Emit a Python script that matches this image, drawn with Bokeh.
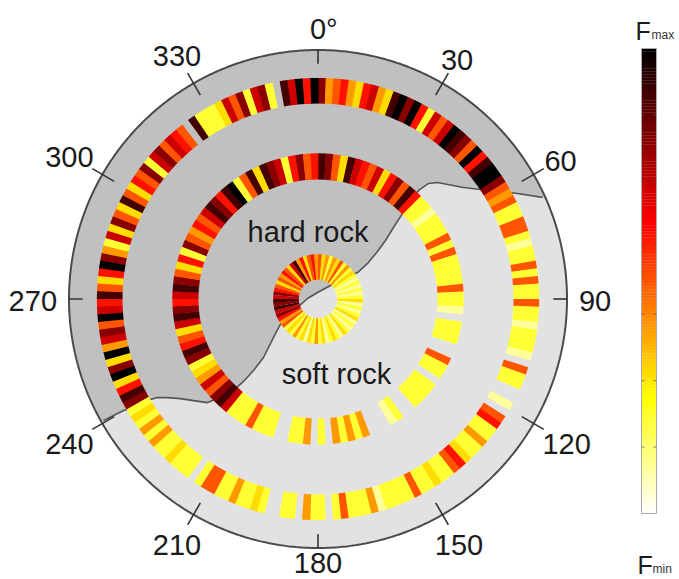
import math
import numpy as np
from bokeh.plotting import figure
from bokeh.models import Range1d, ColumnDataSource
from bokeh.core.properties import value
from bokeh.embed import file_html
from bokeh.resources import INLINE

# ---------------- data (force level 0 = Fmin ... 10 = Fmax, None = no sample) -------------
# outer ring: 2 degree bins starting at 0 deg (north), clockwise
outer_force = [
    8, 4, 5, 6, 4, 3, 6, 7, 4, 3,
    9, 10, 8, 10, 6, 2, 7, 5, 7, 10,
    9, 8, 5, 10, 6, 9, 10, 10, 8, 5,
    4, 5, 2, 2, 5, 5, 2, 1, 2, 2,
    5, 2, 5, 2, 2, 5, 2, 2, 1, 2,
    2, 2, 1, None, 5, 2, 2, None, None, 1,
    None, 5, 6, 2, 2, 4, 2, 2, 3, 6,
    5, 2, 2, 3, 2, 2, 5, 2, 2, 2,
    2, 1, 4, 2, 2, 2, 5, 2, None, 2,
    2, 4, None, 2, 2, None, None, 2, 3, 2,
    2, 4, 2, 2, 5, 5, 2, None, 2, 2,
    2, 3, 2, 2, 4, 2, 4, 2, 3, 2,
    8, 9, 6, 3, 10, 8, 3, 10, 4, 7,
    8, 5, 10, 7, 6, 9, 5, 3, 6, 10,
    8, 4, 2, 7, 3, 8, 5, 3, 9, 5,
    3, 6, 5, 8, 2, 7, 8, 5, 7, 6,
    5, None, 9, 2, 2, 2, 3, 7, 5, 8,
    2, 7, 8, 2, None, 9, 7, 10, 6, 10,
]
# middle ring: 3 degree bins
middle_force = [
    9, 8, 5, 3, 9, 7, 6, 5, 7, 3,
    6, 8, 5, 9, 6, 2, 2, 1, 2, 2,
    2, 5, 2, 5, 2, 2, 2, 2, 5, 2,
    2, 1, None, 2, 2, 2, None, None, 5, 2,
    2, None, 2, 2, 2, 2, None, None, 2, 1,
    None, None, None, 4, 2, 4, 2, 4, None, 2,
    None, 4, 2, 2, None, None, 2, 2, 2, 5,
    2, 2, 2, 7, 9, 8, 5, 7, 4, 3,
    2, 8, 9, 6, 5, 3, 7, 9, 8, 6,
    7, 9, 8, 5, 3, 6, 2, 8, 5, 4,
    6, 5, 7, 9, 8, 6, 9, 10, 2, 5,
    9, 3, 9, 8, 7, 2, 6, 8, 5, 6,
]
# inner ring: 5 degree bins
inner_force = [
    5, 3, 4, 2, 4, 3, 5, 2, 4, 2,
    3, 2, 1, 2, 1, 2, 1, 2, 3, 1,
    2, 1, 2, 3, 1, 2, 1, 2, 3, 1,
    2, 3, 2, 1, 3, 2, 4, 2, 3, 1,
    3, 2, 4, 2, 3, 2, 5, 4, 6, 8,
    7, 9, 8, 9, 7, 8, 6, 5, 3, 5,
    4, 6, 5, 3, 7, 9, 4, 6, 3, 5,
    6, 4,
]
F_MAX = 10

# hard rock / soft rock boundary (east, north) in units of the disc radius
boundary_east = [-0.862, -0.845, -0.821, -0.781, -0.741, -0.685, -0.645, -0.604, -0.552,
                 -0.500, -0.444, -0.392, -0.339, -0.299, -0.259, -0.219, -0.191, -0.171,
                 -0.151, -0.122, -0.082, -0.042, -0.002, 0.050, 0.102, 0.159, 0.199,
                 0.239, 0.271, 0.303, 0.339, 0.371, 0.404, 0.444, 0.480, 0.584, 0.653,
                 0.801, 0.902]
boundary_north = [-0.488, -0.480, -0.468, -0.448, -0.436, -0.408, -0.396, -0.396, -0.400,
                  -0.408, -0.416, -0.396, -0.367, -0.331, -0.287, -0.235, -0.179, -0.139,
                  -0.102, -0.066, -0.034, 0.002, 0.026, 0.054, 0.082, 0.106, 0.143,
                  0.191, 0.235, 0.287, 0.343, 0.396, 0.436, 0.464, 0.468, 0.448, 0.440,
                  0.424, 0.408]

tick_angles = [0, 30, 60, 90, 120, 150, 180, 210, 240, 270, 300, 330]
tick_numbers = ["0", "30", "60", "90", "120", "150", "180", "210", "240", "270", "300", "330"]
tick_suffix = ["°", "", "", "", "", "", "", "", "", "", "", ""]

rock_labels = ["hard rock", "soft rock"]

# ---------------- styling helpers ----------------
def hot_r(f):
    t = 1.0 - f
    r = min(1.0, t / 0.375)
    g = min(1.0, max(0.0, (t - 0.375) / 0.375))
    b = min(1.0, max(0.0, (t - 0.75) / 0.25))
    return "#%02x%02x%02x" % (round(r * 255), round(g * 255), round(b * 255))

S = 249.0            # pixels per unit radius
W, H = 679, 579
CX, CY = 317.5, 298.5   # disc centre, px from the top-left corner
FONT = value("Liberation Sans")
LIFT = 0.30             # baseline correction, in em

def px(x):
    return (x - CX) / S

def py(y):
    return (CY - y) / S

p = figure(width=W, height=H, output_backend="svg", toolbar_location=None,
           x_range=Range1d(-CX / S, (W - CX) / S), y_range=Range1d(-(H - CY) / S, CY / S),
           x_axis_type=None, y_axis_type=None, min_border=0,
           min_border_left=0, min_border_right=0, min_border_top=0, min_border_bottom=0)
p.grid.visible = False
p.outline_line_color = None
p.background_fill_color = "white"
p.border_fill_color = "white"

# disc backgrounds
th = np.linspace(0, 2 * np.pi, 721)
p.patch(np.sin(th), np.cos(th), fill_color="#e2e2e2", line_color=None)

t_last = math.atan2(boundary_east[-1], boundary_north[-1])
t_first = math.atan2(boundary_east[0], boundary_north[0])
arc = np.linspace(t_last, t_first, 200)
hx = list(boundary_east) + list(np.sin(arc))
hy = list(boundary_north) + list(np.cos(arc))
p.patch(hx, hy, fill_color="#c0c0c0", line_color=None)
p.line(boundary_east, boundary_north, line_color="#555555", line_width=1.6)

# rings
def ring(values, r_in, r_out):
    n = len(values)
    step = 360.0 / n
    d = dict(x=[], y=[], ri=[], ro=[], s=[], e=[], c=[])
    for i, v in enumerate(values):
        if v is None:
            continue
        a0 = i * step
        a1 = a0 + step
        d["x"].append(0.0); d["y"].append(0.0)
        d["ri"].append(r_in); d["ro"].append(r_out)
        d["s"].append(math.radians(90 - a1 - 0.15))
        d["e"].append(math.radians(90 - a0))
        d["c"].append(hot_r(v / F_MAX))
    src = ColumnDataSource(d)
    p.annular_wedge(x="x", y="y", inner_radius="ri", outer_radius="ro",
                    start_angle="s", end_angle="e", fill_color="c", line_color=None,
                    source=src)

ring(outer_force, 0.785, 0.888)
ring(middle_force, 0.48, 0.585)
ring(inner_force, 0.077, 0.18)

# rim
p.line(np.sin(th), np.cos(th), line_color="#4a4a4a", line_width=2)

# ticks
x0s, y0s, x1s, y1s = [], [], [], []
for a in tick_angles:
    rad = math.radians(a)
    r_out = 1.0 if a % 90 == 0 else 1.047
    x0s.append(0.945 * math.sin(rad)); y0s.append(0.945 * math.cos(rad))
    x1s.append(r_out * math.sin(rad)); y1s.append(r_out * math.cos(rad))
p.segment(x0s, y0s, x1s, y1s, line_color="#333333", line_width=1.6)

# angle labels
fs = 29
fsd = fs / S
R0 = 261 / S
lx, ly, lt = [], [], []
bottom_limit = py(H - 0.22 * fs - 1)
for a, num, suf in zip(tick_angles, tick_numbers, tick_suffix):
    rad = math.radians(a)
    w_num = len(num) * 0.556 * fsd
    w_suf = 0.4 * fsd if suf else 0.0
    h = 0.716 * fsd
    rc = R0 + 0.5 * (w_num * abs(math.sin(rad)) + h * abs(math.cos(rad)))
    base = max(rc * math.cos(rad) - h / 2, bottom_limit)
    lx.append(rc * math.sin(rad) + w_suf / 2)
    ly.append(base + LIFT * fsd)
    lt.append(num + suf)
p.text(lx, ly, text=lt, text_font=FONT, text_font_size=f"{fs}px", text_align="center",
       text_baseline="alphabetic", text_color="#1a1a1a")

# rock labels
p.text([px(307.5), px(336)], [py(240) + LIFT * 29 / S, py(382) + LIFT * 29 / S],
       text=rock_labels, text_font=FONT,
       text_font_size="29px", text_align="center", text_baseline="alphabetic",
       text_color="#1a1a1a")

# colour bar
cb_x0, cb_x1 = px(641), px(656)
cb_y0, cb_y1 = py(513), py(48)
nseg = 160
edges = np.linspace(cb_y0, cb_y1, nseg + 1)
cols = [hot_r((k + 0.5) / nseg) for k in range(nseg)]
p.quad(left=cb_x0, right=cb_x1, bottom=edges[:-1], top=edges[1:] + 0.001, fill_color=cols,
       line_color=None)
p.quad(left=[cb_x0], right=[cb_x1], bottom=[cb_y0], top=[cb_y1], fill_color=None,
       line_color="#aaaaaa", line_width=1)
tk = [cb_y0 + (cb_y1 - cb_y0) * k / 7 for k in range(1, 7)]
tl = 3 / S
p.segment([cb_x0] * 6 + [cb_x1 - tl] * 6, tk + tk, [cb_x0 + tl] * 6 + [cb_x1] * 6, tk + tk,
          line_color="#555555", line_width=1, line_alpha=0.7)

fmin_base = H - 7
p.text([px(635), px(637)], [py(38) + LIFT * 25 / S, py(fmin_base) + LIFT * 25 / S],
       text=["F", "F"], text_font=FONT, text_font_size="25px", text_align="left",
       text_baseline="alphabetic", text_color="#1a1a1a")
p.text([px(651), px(652)], [py(38) + LIFT * 12 / S, py(fmin_base) + LIFT * 12 / S],
       text=["max", "min"], text_font=FONT, text_font_size="12px", text_align="left",
       text_baseline="alphabetic", text_color="#333333")

open("out.html", "w").write(file_html(p, INLINE))
